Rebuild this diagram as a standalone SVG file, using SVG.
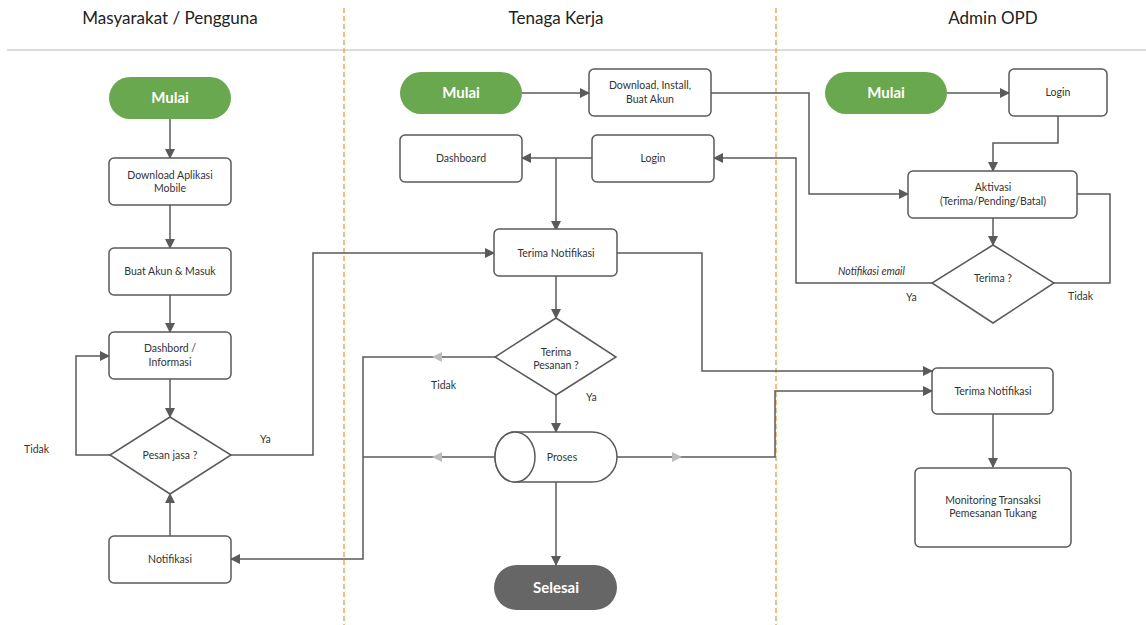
<svg xmlns="http://www.w3.org/2000/svg" width="1146" height="625" viewBox="0 0 1146 625">
<style>
.box{fill:#fff;stroke:#5a5a5a;stroke-width:1.5}
.t{font-family:Lato,"Open Sans","Liberation Sans",sans-serif;font-size:10.5px;fill:#333;text-anchor:middle}
.lbl{font-family:Lato,"Open Sans","Liberation Sans",sans-serif;font-size:10.5px;fill:#333}
.title{font-family:Lato,"Open Sans","Liberation Sans",sans-serif;font-size:17px;fill:#222;text-anchor:middle}
.start{fill:#6aa84f}
.st{font-family:Lato,"Open Sans","Liberation Sans",sans-serif;font-size:15px;font-weight:bold;fill:#fff;text-anchor:middle}
.c{fill:none;stroke:#5a5a5a;stroke-width:1.5}
.lane{stroke:#f0a868;stroke-width:1.5;stroke-dasharray:5 3}
</style>
<defs>
<marker id="a" markerWidth="10" markerHeight="10" refX="9" refY="5" orient="auto" markerUnits="userSpaceOnUse"><path d="M0,0 L10,5 L0,10 z" fill="#5a5a5a"/></marker>
</defs>
<rect width="1146" height="625" fill="#fff"/>
<g id="lanes">
<line x1="7" y1="50" x2="1146" y2="50" stroke="#cfcfcf" stroke-width="1.5"/>
<line class="lane" x1="344" y1="8" x2="344" y2="625"/>
<line class="lane" x1="776" y1="8" x2="776" y2="625"/>
<text class="title" x="170" y="24">Masyarakat / Pengguna</text>
<text class="title" x="556" y="24">Tenaga Kerja</text>
<text class="title" x="993" y="24">Admin OPD</text>
</g>
<g id="connectors">
<path class="c" d="M170,119 V158" marker-end="url(#a)"/>
<path class="c" d="M170,205 V248" marker-end="url(#a)"/>
<path class="c" d="M170,295 V332" marker-end="url(#a)"/>
<path class="c" d="M170,379 V417" marker-end="url(#a)"/>
<path class="c" d="M170,536 V494" marker-end="url(#a)"/>
<path class="c" d="M110,455 H76 V356 H109" marker-end="url(#a)"/>
<path class="c" d="M231,455 H313 V253 H494" marker-end="url(#a)"/>
<path class="c" d="M495,357 H363 V559 H231" marker-end="url(#a)"/>
<path class="c" d="M495,457 H363"/>
<path class="c" d="M522,93 H589" marker-end="url(#a)"/>
<path class="c" d="M592,158 H522" marker-end="url(#a)"/>
<path class="c" d="M556,158 V230" marker-end="url(#a)"/>
<path class="c" d="M556,276 V318" marker-end="url(#a)"/>
<path class="c" d="M556,395 V432" marker-end="url(#a)"/>
<path class="c" d="M556,482 V565" marker-end="url(#a)"/>
<path class="c" d="M617,253 H702 V371 H932" marker-end="url(#a)"/>
<path class="c" d="M617,457 H775 V391 H932" marker-end="url(#a)"/>
<path class="c" d="M711,93 H809 V194 H908" marker-end="url(#a)"/>
<path class="c" d="M947,93 H1009" marker-end="url(#a)"/>
<path class="c" d="M1058,116 V143 H993 V171" marker-end="url(#a)"/>
<path class="c" d="M993,218 V245" marker-end="url(#a)"/>
<path class="c" d="M1054,283 H1110 V194 H1077"/>
<path class="c" d="M932,283 H796 V158 H714" marker-end="url(#a)"/>
<path class="c" d="M993,414 V467" marker-end="url(#a)"/>
<g fill="#bdbdbd">
<path d="M432,357 L442,352 L442,362 z"/>
<path d="M432,457 L442,452 L442,462 z"/>
<path d="M682,457 L672,452 L672,462 z"/>
</g>
<text class="lbl" x="24" y="453">Tidak</text>
<text class="lbl" x="260" y="443">Ya</text>
<text class="lbl" x="431" y="389">Tidak</text>
<text class="lbl" x="586" y="401">Ya</text>
<text class="lbl" x="838" y="275" font-style="italic" font-size="10px">Notifikasi email</text>
<text class="lbl" x="906" y="301">Ya</text>
<text class="lbl" x="1068" y="300">Tidak</text>
</g>
<g id="n-mulai1"><rect class="start" x="109" y="77" width="122" height="42" rx="21"/><text class="st" x="170" y="103">Mulai</text></g>
<g id="n-download1"><rect class="box" x="109" y="158" width="122" height="47" rx="5"/><text class="t" x="170" y="179">Download Aplikasi</text><text class="t" x="170" y="192">Mobile</text></g>
<g id="n-akun"><rect class="box" x="109" y="248" width="122" height="47" rx="5"/><text class="t" x="170" y="275">Buat Akun &amp; Masuk</text></g>
<g id="n-dash1"><rect class="box" x="109" y="332" width="122" height="47" rx="5"/><text class="t" x="170" y="352">Dashbord /</text><text class="t" x="170" y="366">Informasi</text></g>
<g id="n-pesan"><path class="box" d="M170,417 L231,455 L170,494 L110,455 z"/><text class="t" x="170" y="459">Pesan jasa ?</text></g>
<g id="n-notif1"><rect class="box" x="109" y="536" width="122" height="47" rx="5"/><text class="t" x="170" y="563">Notifikasi</text></g>
<g id="n-mulai2"><rect class="start" x="400" y="72" width="122" height="42" rx="21"/><text class="st" x="461" y="98">Mulai</text></g>
<g id="n-download2"><rect class="box" x="589" y="69" width="122" height="47" rx="5"/><text class="t" x="650" y="89">Download, Install,</text><text class="t" x="650" y="103">Buat Akun</text></g>
<g id="n-dash2"><rect class="box" x="400" y="135" width="122" height="47" rx="5"/><text class="t" x="461" y="162">Dashboard</text></g>
<g id="n-login2"><rect class="box" x="592" y="135" width="122" height="47" rx="5"/><text class="t" x="653" y="162">Login</text></g>
<g id="n-terimanotif2"><rect class="box" x="494" y="229" width="123" height="47" rx="5"/><text class="t" x="556" y="257">Terima Notifikasi</text></g>
<g id="n-terimapesanan"><path class="box" d="M556,318 L616,357 L556,395 L495,357 z"/><text class="t" x="556" y="356">Terima</text><text class="t" x="556" y="369">Pesanan ?</text></g>
<g id="n-proses"><path class="box" d="M515,432 H592 A25,25 0 0 1 592,482 H515 A20,25 0 0 1 515,432 z"/><ellipse class="box" cx="515" cy="457" rx="20" ry="25"/><text class="t" x="562" y="461">Proses</text></g>
<g id="n-selesai"><rect x="494" y="565" width="123" height="45" rx="22.5" fill="#666"/><text class="st" x="556" y="593">Selesai</text></g>
<g id="n-mulai3"><rect class="start" x="825" y="72" width="122" height="42" rx="21"/><text class="st" x="886" y="98">Mulai</text></g>
<g id="n-login3"><rect class="box" x="1009" y="69" width="98" height="47" rx="5"/><text class="t" x="1058" y="96">Login</text></g>
<g id="n-aktivasi"><rect class="box" x="908" y="171" width="169" height="47" rx="5"/><text class="t" x="993" y="191">Aktivasi</text><text class="t" x="993" y="205">(Terima/Pending/Batal)</text></g>
<g id="n-terima3"><path class="box" d="M993,245 L1054,283 L993,323 L932,283 z"/><text class="t" x="993" y="282">Terima ?</text></g>
<g id="n-terimanotif3"><rect class="box" x="932" y="368" width="121" height="46" rx="5"/><text class="t" x="993" y="395">Terima Notifikasi</text></g>
<g id="n-monitoring"><rect class="box" x="915" y="468" width="156" height="79" rx="5"/><text class="t" x="993" y="504">Monitoring Transaksi</text><text class="t" x="993" y="517">Pemesanan Tukang</text></g>
</svg>
